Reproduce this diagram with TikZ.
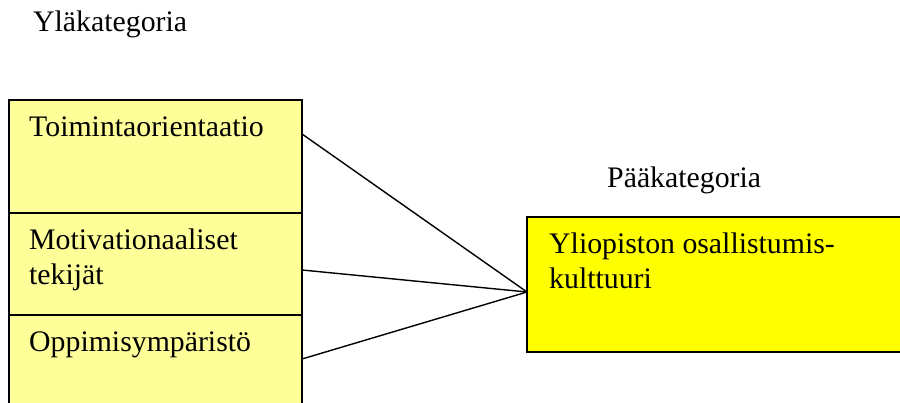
\documentclass[tikz,border=0pt]{standalone}
\usepackage{fontspec}
\setmainfont{Liberation Serif}
\usetikzlibrary{calc}
\definecolor{palefill}{HTML}{FFFF99}
\definecolor{strongfill}{HTML}{FFFF00}
\tikzset{
  catbox/.style={draw=black, line width=1.6pt, fill=palefill, rectangle,
    anchor=north west, inner sep=0pt, outer sep=0pt},
  mainbox/.style={draw=black, line width=1.6pt, fill=strongfill, rectangle,
    anchor=north west, inner sep=0pt, outer sep=0pt},
  label/.style={anchor=base west, inner sep=0pt, align=left,
    font=\fontsize{29.8}{35}\selectfont},
  link/.style={draw=black, line width=1.4pt}
}
\begin{document}
\begin{tikzpicture}[x=1pt,y=-1pt]
  \useasboundingbox (0,0) rectangle (900,403);
  \clip (0,0) rectangle (900,403);

  % headings
  \node[label] (hupper) at (33,32) {Yläkategoria};
  \node[label] (hmain) at (607,188) {Pääkategoria};

  % stacked sub-category boxes
  \node[catbox, minimum width=293pt, minimum height=113pt] (t1) at (9,100) {};
  \node[catbox, minimum width=293pt, minimum height=102pt] (t2) at (9,213) {};
  \node[catbox, minimum width=293pt, minimum height=100pt] (t3) at (9,315) {};

  % (multi-line labels are placed by the baseline of their last line)
  \node[label] (l1) at (29,137) {Toimintaorientaatio};
  \node[label] (l2) at (29,285) {Motivationaaliset\\tekijät};
  \node[label] (l3) at (29,352) {Oppimisympäristö};

  % main category box
  \node[mainbox, minimum width=390pt, minimum height=135pt] (m) at (527,217) {};
  \node[label] (lm) at (549,289) {Yliopiston osallistumis-\\kulttuuri};

  % connectors
  \coordinate (hub) at ($(m.north west)+(0,75)$);
  \draw[link] ($(t1.north east)+(0,34)$) -- (hub);
  \draw[link] ($(t2.north east)+(0,57)$) -- (hub);
  \draw[link] ($(t3.north east)+(0,44)$) -- (hub);
\end{tikzpicture}
\end{document}
